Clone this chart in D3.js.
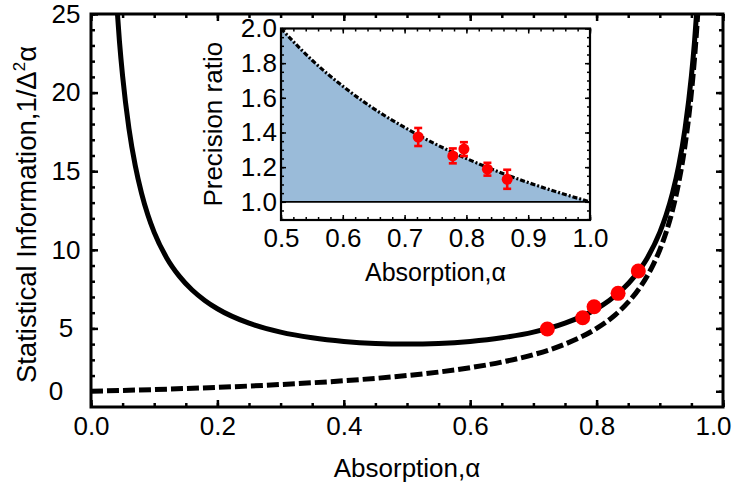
<!DOCTYPE html>
<html>
<head>
<meta charset="utf-8">
<script src="https://cdn.jsdelivr.net/npm/d3@7"></script>
<style>
  body { margin: 0; background: #fff; }
  svg { display: block; font-family: "Liberation Sans", Arial, sans-serif; }
</style>
</head>
<body>
<div id="chart"></div>
<script>
// main panel: statistical information vs absorption
const alphaSolid = [0.04, 0.045, 0.05, 0.06, 0.07, 0.08, 0.09, 0.1, 0.12, 0.14, 0.16, 0.18, 0.2, 0.25, 0.3, 0.35, 0.4, 0.45, 0.5,
  0.55, 0.6, 0.65, 0.7, 0.75, 0.8, 0.82, 0.84, 0.86, 0.88, 0.9, 0.91, 0.92, 0.93, 0.94, 0.95, 0.955, 0.96];
const infoSolid = [26.04, 23.27, 21.05, 17.73, 15.36, 13.59, 12.21, 11.11, 9.47, 8.31, 7.44, 6.78, 6.25, 5.33, 4.76, 4.40, 4.17, 4.04, 4.0,
  4.04, 4.17, 4.40, 4.76, 5.33, 6.25, 6.78, 7.44, 8.31, 9.47, 11.11, 12.21, 13.59, 15.36, 17.73, 21.05, 23.27, 26.04];
const alphaDashed = [0, 0.1, 0.2, 0.3, 0.4, 0.5, 0.55, 0.6, 0.65, 0.7, 0.75, 0.8, 0.83, 0.85, 0.87, 0.89, 0.9, 0.91, 0.92, 0.93, 0.94, 0.95, 0.955, 0.96, 0.965];
const infoDashed = [1.0, 1.11, 1.25, 1.43, 1.67, 2.0, 2.22, 2.5, 2.86, 3.33, 4.0, 5.0, 5.88, 6.67, 7.69, 9.09, 10.0, 11.11, 12.5, 14.29, 16.67, 20.0, 22.22, 25.0, 28.57];
const alphaMeas = [0.722, 0.778, 0.796, 0.834, 0.866];
const infoMeas = [4.96, 5.68, 6.38, 7.23, 8.65];
const xTicks = [0, 0.2, 0.4, 0.6, 0.8, 1.0];
const yTicks = [1, 5, 10, 15, 20, 25];
const yTickLabels = ["0", "5", "10", "15", "20", "25"];

// inset: precision ratio
const alphaRatio = [0.5, 0.55, 0.6, 0.65, 0.7, 0.75, 0.8, 0.85, 0.9, 0.95, 1.0];
const ratioCurve = [2.0, 1.818, 1.667, 1.538, 1.429, 1.333, 1.25, 1.176, 1.111, 1.053, 1.0];
const ratioMeas = [1.374, 1.265, 1.304, 1.188, 1.13];
const ratioErr = [0.052, 0.043, 0.04, 0.037, 0.055];
const insetXTicks = [0.5, 0.6, 0.7, 0.8, 0.9, 1.0];
const insetYTicks = [1.0, 1.2, 1.4, 1.6, 1.8, 2.0];

const width = 735, height = 483;
const margin = { top: 14, right: 12, bottom: 76, left: 91 };

const svg = d3.select("#chart").append("svg")
  .attr("width", width)
  .attr("height", height)
  .attr("viewBox", [0, 0, width, height]);

const x = d3.scaleLinear([0, 1], [margin.left, width - margin.right]);
const y = d3.scaleLinear([0, 25], [height - margin.bottom, margin.top]);

svg.append("clipPath").attr("id", "clip")
  .append("rect")
  .attr("x", margin.left).attr("y", margin.top)
  .attr("width", width - margin.left - margin.right)
  .attr("height", height - margin.top - margin.bottom);

const line = d3.line().x(d => x(d[0])).y(d => y(d[1])).curve(d3.curveMonotoneX);

svg.append("path")
  .attr("clip-path", "url(#clip)")
  .attr("fill", "none").attr("stroke", "#000").attr("stroke-width", 5)
  .attr("stroke-dasharray", "12,4")
  .attr("d", line(alphaDashed.map((a, i) => [a, infoDashed[i]])));

svg.append("path")
  .attr("clip-path", "url(#clip)")
  .attr("fill", "none").attr("stroke", "#000").attr("stroke-width", 5)
  .attr("d", line(alphaSolid.map((a, i) => [a, infoSolid[i]])));

svg.append("g").selectAll("circle")
  .data(alphaMeas)
  .join("circle")
  .attr("cx", d => x(d))
  .attr("cy", (d, i) => y(infoMeas[i]))
  .attr("r", 7.5)
  .attr("fill", "#ff0000");

// frame + inward ticks on all four sides
function frame(g, xs, ys, o) {
  const [x0, x1] = xs.range(), [y0, y1] = ys.range();
  const minorX = d3.range(o.xMin[0], o.xMin[1] + 1e-9, o.xMin[2]);
  const minorY = d3.range(o.yMin[0], o.yMin[1] + 1e-9, o.yMin[2]);
  const cfg = [
    [d3.axisBottom(xs), y0, true],
    [d3.axisTop(xs), y1, false],
  ];
  cfg.forEach(([ax, ty, lab]) => {
    g.append("g").attr("transform", `translate(0,${ty})`)
      .call(ax.tickValues(minorX).tickSize(-o.minor).tickFormat(""))
      .call(s => s.select(".domain").remove());
    const a = g.append("g").attr("transform", `translate(0,${ty})`)
      .call(ax.tickValues(o.xMajor).tickSize(-o.major).tickPadding(o.xPad)
        .tickFormat(lab ? o.xFmt : ""))
      .call(s => s.select(".domain").remove());
    a.selectAll("text").attr("font-size", o.font).attr("font-family", null).attr("fill", "#000");
  });
  const cfgY = [
    [d3.axisLeft(ys), x0, true],
    [d3.axisRight(ys), x1, false],
  ];
  cfgY.forEach(([ax, tx, lab]) => {
    g.append("g").attr("transform", `translate(${tx},0)`)
      .call(ax.tickValues(minorY).tickSize(-o.minor).tickFormat(""))
      .call(s => s.select(".domain").remove());
    const a = g.append("g").attr("transform", `translate(${tx},0)`)
      .call(ax.tickValues(o.yMajor).tickSize(-o.major).tickPadding(o.yPad)
        .tickFormat(lab ? o.yFmt : ""))
      .call(s => s.select(".domain").remove());
    a.selectAll("text").attr("font-size", o.font).attr("font-family", null).attr("fill", "#000")
      .attr("text-anchor", o.yAnchor || "end");
  });
  g.selectAll(".tick line").attr("stroke", "#000").attr("stroke-width", o.tickW);
  g.append("rect")
    .attr("x", x0).attr("y", y1)
    .attr("width", x1 - x0).attr("height", y0 - y1)
    .attr("fill", "none").attr("stroke", "#000").attr("stroke-width", o.frameW);
}

const mainAxes = svg.append("g");
frame(mainAxes, x, y, {
  xMin: [0, 1, 0.05], yMin: [1, 25, 1],
  xMajor: xTicks, yMajor: yTicks,
  xFmt: d3.format(".1f"), yFmt: (d, i) => yTickLabels[i],
  minor: 4, major: 7, xPad: 10, yPad: 25, yAnchor: "middle",
  font: 26, tickW: 2.5, frameW: 3
});
// last x label sits a little inside the frame
mainAxes.selectAll("text").filter(d => d === 1).attr("dx", -10);

svg.append("text")
  .attr("x", (x(0) + x(1)) / 2).attr("y", 477)
  .attr("text-anchor", "middle").attr("font-size", 26)
  .text("Absorption,α");

svg.append("text")
  .attr("transform", `translate(36,${(y(0) + y(25)) / 2 + 4}) rotate(-90)`)
  .attr("text-anchor", "middle").attr("font-size", 27.5)
  .call(t => {
    t.append("tspan").text("Statistical Information,1/Δ");
    t.append("tspan").attr("font-size", 17).attr("dy", -11).text("2");
    t.append("tspan").attr("dy", 11).text("α");
  });

// inset
const ix = d3.scaleLinear([0.5, 1.0], [281, 590]);
const iy = d3.scaleLinear([0.895, 2.0], [220, 28.5]);
const inset = svg.append("g");

inset.append("rect")
  .attr("x", 281).attr("y", 28.5).attr("width", 309).attr("height", 191.5)
  .attr("fill", "#fff");

const ratioPts = alphaRatio.map((a, i) => [a, ratioCurve[i]]);
inset.append("path")
  .attr("fill", "#9abbd9")
  .attr("d", d3.area().x(d => ix(d[0])).y0(iy(1.0)).y1(d => iy(d[1])).curve(d3.curveMonotoneX)(ratioPts));

inset.append("line")
  .attr("x1", ix(0.5)).attr("x2", ix(1.0))
  .attr("y1", iy(1.0)).attr("y2", iy(1.0))
  .attr("stroke", "#000").attr("stroke-width", 1.8);

inset.append("path")
  .attr("fill", "none").attr("stroke", "#000").attr("stroke-width", 3.2)
  .attr("stroke-dasharray", "5,2,2,2")
  .attr("d", d3.line().x(d => ix(d[0])).y(d => iy(d[1])).curve(d3.curveMonotoneX)(ratioPts));

const bars = inset.append("g").attr("stroke", "#ff0000").attr("stroke-width", 2.6);
alphaMeas.forEach((a, i) => {
  const lo = iy(ratioMeas[i] - ratioErr[i]), hi = iy(ratioMeas[i] + ratioErr[i]);
  bars.append("line").attr("x1", ix(a)).attr("x2", ix(a)).attr("y1", lo).attr("y2", hi);
  bars.append("line").attr("x1", ix(a) - 4).attr("x2", ix(a) + 4).attr("y1", lo).attr("y2", lo);
  bars.append("line").attr("x1", ix(a) - 4).attr("x2", ix(a) + 4).attr("y1", hi).attr("y2", hi);
});
inset.append("g").selectAll("circle")
  .data(alphaMeas)
  .join("circle")
  .attr("cx", d => ix(d))
  .attr("cy", (d, i) => iy(ratioMeas[i]))
  .attr("r", 5.5)
  .attr("fill", "#ff0000");

frame(inset.append("g"), ix, iy, {
  xMin: [0.5, 1.0, 0.02], yMin: [0.9, 2.0, 0.05],
  xMajor: insetXTicks, yMajor: insetYTicks,
  xFmt: d3.format(".1f"), yFmt: d3.format(".1f"),
  minor: 3, major: 5, xPad: 9, yPad: 4,
  font: 26, tickW: 1.5, frameW: 2.2
});

svg.append("text")
  .attr("x", (ix(0.5) + ix(1.0)) / 2).attr("y", 281)
  .attr("text-anchor", "middle").attr("font-size", 25)
  .text("Absorption,α");

svg.append("text")
  .attr("transform", `translate(222,${(iy(0.895) + iy(2.0)) / 2}) rotate(-90)`)
  .attr("text-anchor", "middle").attr("font-size", 26)
  .text("Precision ratio");
</script>
</body>
</html>
